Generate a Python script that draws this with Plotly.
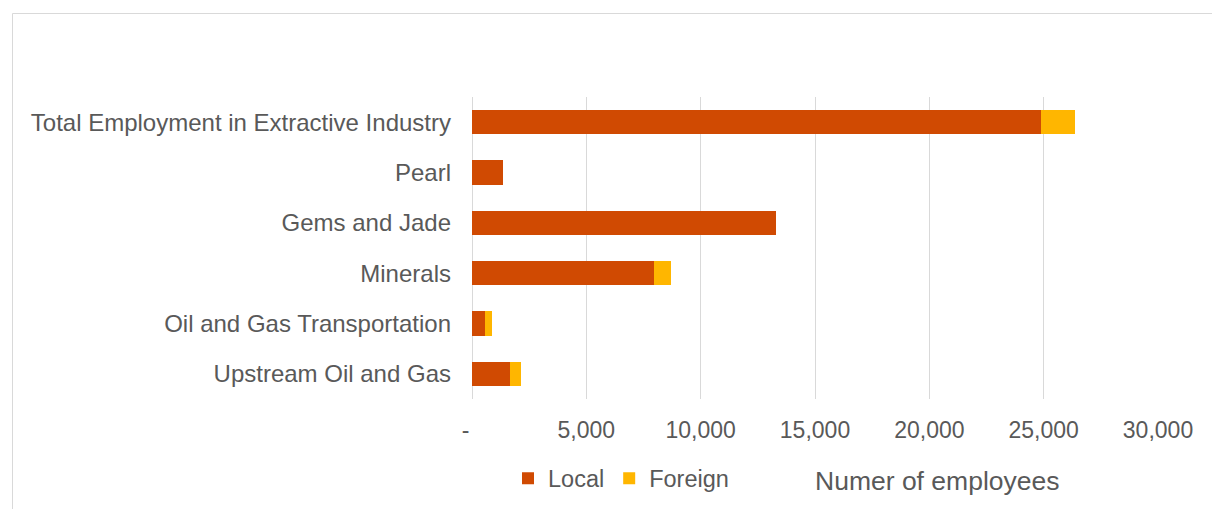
import plotly.graph_objects as go

categories = ["Upstream Oil and Gas", "Oil and Gas Transportation", "Minerals",
              "Gems and Jade", "Pearl", "Total Employment in Extractive Industry"]
local = [1660, 590, 7960, 13300, 1360, 24870]
foreign = [465, 270, 750, 0, 0, 1485]
tick_vals = [0, 5000, 10000, 15000, 20000, 25000, 30000]
tick_text = ["-\u00a0\u00a0", "5,000", "10,000", "15,000", "20,000", "25,000", "30,000"]

FONT = "Liberation Sans, Arial, sans-serif"
# page is offset by the 8px body margin; compensate in the margins
OFF = 8
PL, PR, PT, PB = 472, 1158, 97, 399  # target plot area in screen pixels
W, H = 1220, 509
PW, PH = PR - PL, PB - PT

fig = go.Figure()
fig.add_trace(go.Bar(y=categories, x=local, name="Local", orientation="h",
                     marker=dict(color="#D04A02", line=dict(width=0))))
fig.add_trace(go.Bar(y=categories, x=foreign, name="Foreign", orientation="h",
                     marker=dict(color="#FFB600", line=dict(width=0))))

fig.update_layout(
    barmode="stack", bargap=0.52,
    width=W, height=H,
    margin=dict(l=PL - OFF, r=W - (PR - OFF), t=PT - OFF, b=H - (PB - OFF)),
    paper_bgcolor="white", plot_bgcolor="white",
    font=dict(family=FONT, color="#595959", size=24),
    showlegend=True,
    legend=dict(orientation="h", x=(508 - PL) / PW, y=-(478.5 - PB) / PH,
                xanchor="left", yanchor="middle",
                font=dict(size=23.5, color="#595959"), traceorder="normal",
                itemwidth=30),
    xaxis=dict(range=[0, 30000], tickvals=tick_vals, ticktext=tick_text,
               showgrid=True, gridcolor="#d9d9d9", gridwidth=1,
               zeroline=True, zerolinecolor="#d9d9d9", zerolinewidth=1,
               showline=False, ticks="", tickfont=dict(size=23, color="#595959"),
               ticklabelstandoff=15, fixedrange=True),
    yaxis=dict(showgrid=False, showline=False, ticks="",
               tickfont=dict(size=24, color="#595959"), fixedrange=True,
               ticklabelstandoff=20),
    annotations=[dict(text="Numer of employees", xref="paper", yref="paper",
                      x=(937 - PL) / PW, y=-(481 - PB) / PH,
                      xanchor="center", yanchor="middle", showarrow=False,
                      font=dict(size=26.5, color="#595959", family=FONT))],
    shapes=[dict(type="rect", xref="paper", yref="paper",
                 x0=(12.5 - PL) / PW, x1=(1300 - PL) / PW,
                 y0=-(560 - PB) / PH, y1=1 + (PT - 13.5) / PH,
                 line=dict(color="#d9d9d9", width=1), fillcolor="rgba(0,0,0,0)",
                 layer="below")],
)
fig.write_html("out.html")
